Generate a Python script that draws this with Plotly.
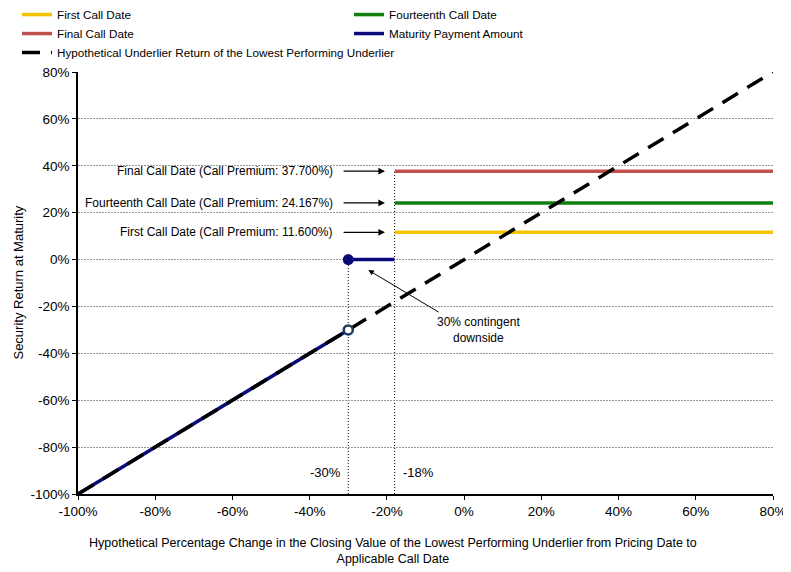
import plotly.graph_objects as go

# values (percent)
x_ticks = [-100, -80, -60, -40, -20, 0, 20, 40, 60, 80]
y_ticks = [-100, -80, -60, -40, -20, 0, 20, 40, 60, 80]

call_names = ["First Call Date", "Fourteenth Call Date", "Final Call Date"]
call_premiums = [11.600, 24.167, 37.700]
call_colors = ["#F5C400", "#108010", "#C0504D"]

call_threshold = -18
barrier = -30
axis_min, axis_max = -100, 80

underlier_x = [axis_min, axis_max]
underlier_y = [axis_min, axis_max]

NAVY = "#0A0A78"
FONT = "Liberation Sans, Arial, sans-serif"

fig = go.Figure()

# call date lines (legend order: First, Fourteenth, Final, Maturity, Hypothetical)
order = [0, 1, 2]
for i in order:
    fig.add_trace(go.Scatter(
        x=[call_threshold, axis_max], y=[call_premiums[i], call_premiums[i]],
        mode="lines", name=call_names[i],
        line=dict(color=call_colors[i], width=3.5),
    ))

# maturity payment amount
fig.add_trace(go.Scatter(
    x=[axis_min, barrier], y=[axis_min, barrier],
    mode="lines", name="Maturity Payment Amount", legendgroup="mat",
    line=dict(color=NAVY, width=3.5),
))
fig.add_trace(go.Scatter(
    x=[barrier, call_threshold], y=[0, 0],
    mode="lines", legendgroup="mat", showlegend=False,
    line=dict(color=NAVY, width=3.5),
))

# hypothetical underlier return
fig.add_trace(go.Scatter(
    x=underlier_x, y=underlier_y, mode="lines",
    name="Hypothetical Underlier Return of the Lowest Performing Underlier",
    line=dict(color="black", width=3.5, dash="18px,11px"),
))

# markers on top
fig.add_trace(go.Scatter(
    x=[barrier], y=[0], mode="markers", showlegend=False,
    marker=dict(color=NAVY, size=11),
))
fig.add_trace(go.Scatter(
    x=[barrier], y=[barrier], mode="markers", showlegend=False,
    marker=dict(color="white", size=9, line=dict(color="#1F3A5A", width=2.5)),
))

# vertical dotted guides
fig.add_shape(type="line", x0=barrier, x1=barrier, y0=axis_min, y1=0,
              line=dict(color="black", width=1, dash="1px,2px"), layer="below")
fig.add_shape(type="line", x0=call_threshold, x1=call_threshold, y0=axis_min, y1=call_premiums[2],
              line=dict(color="black", width=1, dash="1px,2px"), layer="below")

# call premium labels with arrows
for i in order:
    label = f"{call_names[i]} (Call Premium: {call_premiums[i]:.3f}%)"
    fig.add_annotation(x=-33.4, y=call_premiums[i], text=label, showarrow=False,
                       xanchor="right", yanchor="middle",
                       font=dict(family=FONT, size=12, color="black"))
    fig.add_annotation(x=-20.5, y=call_premiums[i], ax=-31.6, ay=call_premiums[i],
                       axref="x", ayref="y", text="", showarrow=True,
                       arrowhead=2, arrowsize=1.1, arrowwidth=1.2, arrowcolor="black")

fig.add_annotation(x=-24.8, y=-4.5, ax=-6.2, ay=-22.8, axref="x", ayref="y",
                   text="", showarrow=True, arrowhead=2, arrowsize=1.1,
                   arrowwidth=1, arrowcolor="black")
fig.add_annotation(x=3.6, y=-30, text="30% contingent<br>downside", showarrow=False,
                   xanchor="center", yanchor="middle",
                   font=dict(family=FONT, size=12, color="black"))

fig.add_annotation(x=-31.4, y=-91, text=f"{barrier}%", showarrow=False,
                   xanchor="right", font=dict(family=FONT, size=13, color="black"))
fig.add_annotation(x=-16.4, y=-91, text=f"{call_threshold}%", showarrow=False,
                   xanchor="left", font=dict(family=FONT, size=13, color="black"))

# axis titles as annotations (x title is centred on the page in the reference)
fig.add_annotation(xref="paper", yref="paper", x=0.453, y=-0.095, yanchor="top",
                   text="Hypothetical Percentage Change in the Closing Value of the Lowest Performing Underlier from Pricing Date to<br>Applicable Call Date",
                   showarrow=False, font=dict(family=FONT, size=12.5, color="black"))
fig.add_annotation(xref="paper", yref="paper", x=-0.087, y=0.5, textangle=-90,
                   xanchor="center", yanchor="middle",
                   text="Security Return at Maturity", showarrow=False,
                   font=dict(family=FONT, size=13, color="black"))

# the page body has an 8px margin, so the figure is sized to fit the window
fig.update_layout(
    width=783, height=564,
    margin=dict(l=70, r=18, t=64, b=78, autoexpand=False),
    paper_bgcolor="white", plot_bgcolor="white",
    font=dict(family=FONT, size=12, color="black"),
    showlegend=True,
    legend=dict(
        orientation="h", xref="container", yref="paper",
        x=0.0115, y=1.1705, xanchor="left", yanchor="top",
        entrywidth=287, itemwidth=30,
        font=dict(family=FONT, size=11.7, color="black"),
        tracegroupgap=0, bgcolor="rgba(0,0,0,0)",
    ),
    xaxis=dict(
        range=[axis_min, axis_max], tickvals=x_ticks,
        ticktext=[f"{v}%" for v in x_ticks],
        showgrid=False, zeroline=False, automargin=False,
        showline=True, linecolor="black", linewidth=1.5,
        ticks="outside", ticklen=4, tickcolor="black",
        tickfont=dict(family=FONT, size=13.5),
    ),
    yaxis=dict(
        range=[axis_min, axis_max], tickvals=y_ticks,
        ticktext=[f"{v}%" for v in y_ticks],
        showgrid=True, gridcolor="#9A9A9A", gridwidth=1, griddash="2px,1px",
        zeroline=False, automargin=False,
        showline=True, linecolor="black", linewidth=1.5,
        ticks="outside", ticklen=4, tickcolor="black",
        tickfont=dict(family=FONT, size=13.5),
    ),
)

fig.write_html("out.html")
